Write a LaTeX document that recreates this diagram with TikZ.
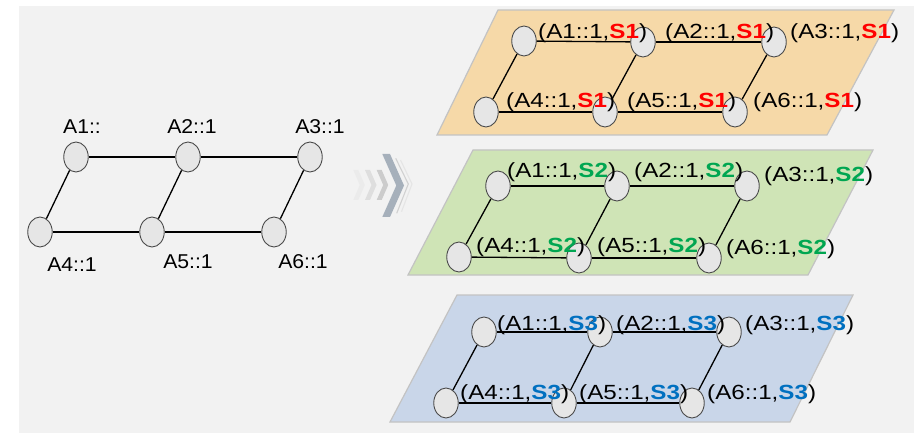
\documentclass[tikz,border=0pt]{standalone}
\usepackage{fontspec}
\usepackage{graphicx}
\setmainfont{Liberation Sans}
\newfontfamily\leftfont{Liberation Sans}[FakeStretch=1.06]
\usetikzlibrary{shapes.geometric}

\definecolor{bggray}{HTML}{F2F2F2}
\definecolor{vfill}{HTML}{E6E6E6}
\definecolor{vedge}{HTML}{4D4D4D}
\definecolor{panelline}{HTML}{C3C3C3}
\definecolor{panelone}{HTML}{F6D9A8}
\definecolor{paneltwo}{HTML}{CFE4B6}
\definecolor{panelthree}{HTML}{C9D6E9}
\definecolor{sone}{HTML}{FF0000}
\definecolor{stwo}{HTML}{00A651}
\definecolor{sthree}{HTML}{0070C0}
\definecolor{chevmain}{HTML}{A6B0BB}

% chevron: left x, top y, bottom y, thickness, depth, fill
\newcommand{\chevronshape}[6]{%
  \fill[#6] (#1,#2) -- ({#1+#4},#2) -- ({#1+#4+#5},{(#2+#3)/2}) -- ({#1+#4},#3)
    -- (#1,#3) -- ({#1+#5},{(#2+#3)/2}) -- cycle;}

\newcommand{\widetext}[1]{\scalebox{1.18}[1]{#1}}
\newcommand{\tagone}[1]{\widetext{(#1::1,{\bfseries\color{sone}S1})}}
\newcommand{\tagtwo}[1]{\widetext{(#1::1,{\bfseries\color{stwo}S2})}}
\newcommand{\tagthree}[1]{\widetext{(#1::1,{\bfseries\color{sthree}S3})}}

\tikzset{
  vert/.style={ellipse, draw=vedge, fill=vfill, line width=0.9pt,
    minimum width=24.5pt, minimum height=30pt, inner sep=0pt},
  link/.style={line width=1.3pt, black},
  lbl/.style={inner sep=0pt, anchor=west, font=\fontsize{20.5}{24}\selectfont},
  leftlbl/.style={inner sep=0pt, font=\leftfont\fontsize{20}{24}\selectfont},
  panel/.style={draw=panelline, line width=1.2pt},
}

\begin{document}
\begin{tikzpicture}[x=1pt,y=-1pt]
\useasboundingbox (0,0) rectangle (914,433);
\fill[bggray] (19,6) rectangle (914,433);

% ---- plain graph on the left ----
\node[vert] (a1) at (76,157) {};
\node[vert] (a2) at (188,157) {};
\node[vert] (a3) at (310,157) {};
\node[vert] (a4) at (40,232) {};
\node[vert] (a5) at (152,232) {};
\node[vert] (a6) at (274,232) {};
\draw[link] (a1) -- (a2);
\draw[link] (a2) -- (a3);
\draw[link] (a4) -- (a5);
\draw[link] (a5) -- (a6);
\draw[link] (a1) -- (a4);
\draw[link] (a2) -- (a5);
\draw[link] (a3) -- (a6);
\node[leftlbl] (la1) at (82,127) {A1::};
\node[leftlbl] (la2) at (192,127) {A2::1};
\node[leftlbl] (la3) at (320,127) {A3::1};
\node[leftlbl] (la4) at (72,265) {A4::1};
\node[leftlbl] (la5) at (188,262) {A5::1};
\node[leftlbl] (la6) at (303,262) {A6::1};

% ---- chevron arrow ----
\chevronshape{353.3}{170}{200}{5}{6.5}{black!8}
\chevronshape{365}{170}{200}{5}{6.5}{black!13}
\chevronshape{376.7}{170}{200}{5}{6.5}{black!20}
\draw[black!18, line width=1.1pt] (395.7,158.3) -- (408.3,184) -- (396.7,213.3);
\draw[black!10, line width=1.1pt] (400.5,160) -- (412,184) -- (401.5,211.7);
\chevronshape{382.3}{154}{217}{7.7}{14}{chevmain}

% ---- panel S1 ----
\filldraw[panel, fill=panelone] (498,10) -- (894,10) -- (827,135) -- (437,135) -- cycle;
\node[vert] (p1a1) at (524,41) {};
\node[vert] (p1a2) at (643,42) {};
\node[vert] (p1a3) at (774,42) {};
\node[vert] (p1a4) at (486,112) {};
\node[vert] (p1a5) at (605,112) {};
\node[vert] (p1a6) at (735,112) {};
\draw[link] (p1a1) -- (p1a2);
\draw[link] (p1a2) -- (p1a3);
\draw[link] (p1a4) -- (p1a5);
\draw[link] (p1a5) -- (p1a6);
\draw[link] (p1a1) -- (p1a4);
\draw[link] (p1a2) -- (p1a5);
\draw[link] (p1a3) -- (p1a6);
\node[lbl] (p1l1) at (538,33) {\tagone{A1}};
\node[lbl] (p1l2) at (665,33) {\tagone{A2}};
\node[lbl] (p1l3) at (790,33) {\tagone{A3}};
\node[lbl] (p1l4) at (506,102) {\tagone{A4}};
\node[lbl] (p1l5) at (627,102) {\tagone{A5}};
\node[lbl] (p1l6) at (753,102) {\tagone{A6}};

% ---- panel S2 ----
\filldraw[panel, fill=paneltwo] (473,150) -- (873,150) -- (808,275) -- (408,275) -- cycle;
\node[vert] (p2a1) at (498,186) {};
\node[vert] (p2a2) at (617,186) {};
\node[vert] (p2a3) at (747,186) {};
\node[vert] (p2a4) at (459,257) {};
\node[vert] (p2a5) at (579,258) {};
\node[vert] (p2a6) at (709,258) {};
\draw[link] (p2a1) -- (p2a2);
\draw[link] (p2a2) -- (p2a3);
\draw[link] (p2a4) -- (p2a5);
\draw[link] (p2a5) -- (p2a6);
\draw[link] (p2a1) -- (p2a4);
\draw[link] (p2a2) -- (p2a5);
\draw[link] (p2a3) -- (p2a6);
\node[lbl] (p2l1) at (507,172) {\tagtwo{A1}};
\node[lbl] (p2l2) at (634,172) {\tagtwo{A2}};
\node[lbl] (p2l3) at (764,176) {\tagtwo{A3}};
\node[lbl] (p2l4) at (476,247) {\tagtwo{A4}};
\node[lbl] (p2l5) at (597,247) {\tagtwo{A5}};
\node[lbl] (p2l6) at (726,249) {\tagtwo{A6}};

% ---- panel S3 ----
\filldraw[panel, fill=panelthree] (457,295) -- (853,295) -- (790,422) -- (390,422) -- cycle;
\node[vert] (p3a1) at (484,332) {};
\node[vert] (p3a2) at (600,332) {};
\node[vert] (p3a3) at (729,332) {};
\node[vert] (p3a4) at (446,403) {};
\node[vert] (p3a5) at (564,403) {};
\node[vert] (p3a6) at (692,403) {};
\draw[link] (p3a1) -- (p3a2);
\draw[link] (p3a2) -- (p3a3);
\draw[link] (p3a4) -- (p3a5);
\draw[link] (p3a5) -- (p3a6);
\draw[link] (p3a1) -- (p3a4);
\draw[link] (p3a2) -- (p3a5);
\draw[link] (p3a3) -- (p3a6);
\node[lbl] (p3l1) at (497,325) {\tagthree{A1}};
\node[lbl] (p3l2) at (616,325) {\tagthree{A2}};
\node[lbl] (p3l3) at (745,325) {\tagthree{A3}};
\node[lbl] (p3l4) at (460,394) {\tagthree{A4}};
\node[lbl] (p3l5) at (579,394) {\tagthree{A5}};
\node[lbl] (p3l6) at (707,394) {\tagthree{A6}};
\end{tikzpicture}
\end{document}
